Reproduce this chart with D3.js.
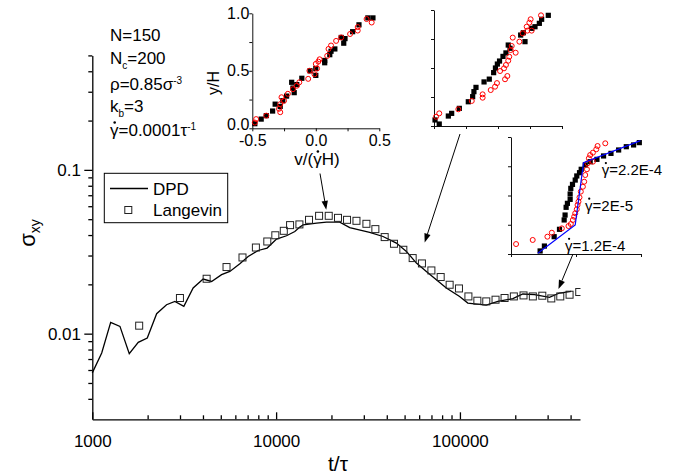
<!DOCTYPE html>
<html>
<head>
<meta charset="utf-8">
<script src="https://cdn.jsdelivr.net/npm/d3@7"></script>
<style>
  body { margin: 0; background: #fff; }
</style>
</head>
<body>
<script>
// shear stress vs time, DPD run (line) and Langevin run (squares)
var dpdT = [1000, 1125, 1259, 1414, 1589, 1778, 1991, 2239, 2535, 2813, 3148, 3537, 4009, 4456, 5051, 5601,
  6348, 7047, 7985, 8933, 10050, 11390, 12640, 13460, 14030, 16600, 18800, 22200, 25140, 32280, 38160,
  45110, 51150, 57990, 65660, 84330, 99600, 110400, 139000, 160900, 194100, 219800, 254600, 307000,
  348100, 403000];
var dpdS = [0.00576, 0.00763, 0.01172, 0.01108, 0.00755, 0.00885, 0.00941, 0.01324, 0.01502, 0.01574,
  0.01467, 0.0190, 0.02156, 0.02084, 0.02291, 0.02399, 0.02672, 0.0296, 0.0322, 0.03332, 0.03779, 0.0396,
  0.04206, 0.04472, 0.04619, 0.04732, 0.04797, 0.04797, 0.04446, 0.04147, 0.0392, 0.03573, 0.03176,
  0.02698, 0.02399, 0.019, 0.01688, 0.01538, 0.01492, 0.01574, 0.01635, 0.01746, 0.01729, 0.01664,
  0.01771, 0.01811];
var lanT = [1799, 2998, 4188, 5373, 6563, 7762, 8954, 9901, 11010, 11910, 13390, 15100, 17130, 19330,
  21710, 24310, 27360, 30990, 34670, 38960, 43770, 49220, 55320, 62130, 69940, 78570, 87900, 98800,
  111200, 124400, 139100, 156200, 174900, 196500, 221800, 249300, 280600, 314100, 351500, 394900, 445700];
var lanS = [0.01119, 0.01651, 0.02164, 0.02551, 0.02919, 0.03357, 0.03654, 0.03988, 0.04246, 0.046,
  0.04645, 0.04955, 0.05243, 0.05243, 0.05094, 0.04955, 0.04887, 0.04685, 0.04348, 0.03887, 0.03539,
  0.03252, 0.02894, 0.02684, 0.02432, 0.02217, 0.01989, 0.01888, 0.01688, 0.01589, 0.01574, 0.01612,
  0.01651, 0.01688, 0.01712, 0.01688, 0.01705, 0.01641, 0.01688, 0.01729, 0.01796];

var xMajor = [1000, 10000, 100000];
var xMinor = [2000, 3000, 4000, 5000, 6000, 7000, 8000, 9000, 20000, 30000, 40000, 50000, 60000, 70000,
  80000, 90000, 200000, 300000, 400000];
var yMajor = [0.01, 0.1];
var yMinor = [0.004, 0.005, 0.006, 0.007, 0.008, 0.009, 0.02, 0.03, 0.04, 0.05, 0.06, 0.07, 0.08, 0.09,
  0.2, 0.3, 0.4, 0.5];

// velocity profiles in the insets: [v/(gamma H), y/H]
var prof1Dpd = [[-0.48, 0.04], [-0.43, 0.08], [-0.39, 0.11], [-0.34, 0.15], [-0.32, 0.21], [-0.28, 0.19],
  [-0.26, 0.24], [-0.23, 0.28], [-0.19, 0.40], [-0.18, 0.35], [-0.17, 0.31], [-0.15, 0.38], [-0.11, 0.435],
  [-0.045, 0.50], [0.0, 0.46], [0.0, 0.52], [0.07, 0.57], [0.07, 0.59], [0.11, 0.64], [0.12, 0.67],
  [0.15, 0.69], [0.20, 0.79], [0.22, 0.74], [0.23, 0.78], [0.29, 0.84], [0.34, 0.90], [0.41, 0.96],
  [0.45, 0.96]];
var prof1Lan = [[-0.48, 0.05], [-0.47, 0.08], [-0.39, 0.11], [-0.29, 0.17], [-0.28, 0.14], [-0.28, 0.21],
  [-0.27, 0.27], [-0.25, 0.24], [-0.22, 0.30], [-0.18, 0.34], [-0.15, 0.37], [-0.13, 0.40], [-0.06, 0.43],
  [-0.05, 0.50], [-0.01, 0.47], [0.0, 0.56], [0.01, 0.52], [0.02, 0.58], [0.03, 0.60], [0.09, 0.63],
  [0.10, 0.69], [0.12, 0.72], [0.16, 0.76], [0.20, 0.79], [0.27, 0.82], [0.33, 0.85], [0.33, 0.88],
  [0.40, 0.95], [0.44, 0.92]];
var prof2Dpd = [[-0.492, 0.052], [-0.459, 0.017], [-0.388, 0.086], [-0.362, 0.109], [-0.302, 0.152],
  [-0.232, 0.209], [-0.198, 0.253], [-0.188, 0.296], [-0.172, 0.333], [-0.109, 0.38], [-0.068, 0.404],
  [-0.034, 0.46], [-0.02, 0.5], [-0.005, 0.534], [0.012, 0.56], [0.039, 0.6], [0.062, 0.63], [0.08, 0.698],
  [0.094, 0.67], [0.177, 0.784], [0.198, 0.804], [0.211, 0.727], [0.263, 0.842], [0.289, 0.856],
  [0.323, 0.885], [0.341, 0.92], [0.393, 0.954]];
var prof2Lan = [[-0.484, 0.08], [-0.459, 0.109], [-0.31, 0.144], [-0.205, 0.216], [-0.12, 0.244],
  [-0.12, 0.273], [-0.057, 0.31], [-0.023, 0.339], [-0.008, 0.37], [0.055, 0.403], [0.073, 0.431],
  [0.016, 0.474], [0.047, 0.497], [0.062, 0.526], [0.08, 0.563], [0.088, 0.597], [0.099, 0.655],
  [0.107, 0.69], [0.138, 0.632], [0.115, 0.762], [0.167, 0.727], [0.193, 0.799], [0.224, 0.856],
  [0.229, 0.822], [0.245, 0.891], [0.255, 0.92], [0.263, 0.822], [0.336, 0.954]];
var prof3Dpd = [[-0.276, 0.026], [-0.243, 0.068], [-0.168, 0.148], [-0.127, 0.211], [-0.091, 0.291],
  [-0.084, 0.333], [-0.076, 0.399], [-0.066, 0.433], [-0.045, 0.467], [-0.045, 0.513], [-0.04, 0.561],
  [-0.027, 0.595], [-0.006, 0.632], [0.006, 0.667], [0.027, 0.695], [0.04, 0.724], [0.071, 0.761],
  [0.109, 0.789], [0.161, 0.809], [0.212, 0.838], [0.269, 0.86], [0.328, 0.889], [0.387, 0.917],
  [0.443, 0.932], [0.487, 0.952]];
var prof3Lan = [[-0.461, 0.085], [-0.333, 0.12], [-0.22, 0.148], [-0.186, 0.182], [-0.109, 0.219],
  [-0.058, 0.239], [-0.04, 0.256], [-0.024, 0.291], [-0.014, 0.319], [-0.006, 0.348], [0.006, 0.382],
  [0.012, 0.419], [0.019, 0.447], [0.027, 0.484], [0.037, 0.533], [0.053, 0.575], [0.063, 0.618],
  [0.071, 0.675], [0.084, 0.724], [0.089, 0.775], [0.099, 0.818], [0.109, 0.846], [0.13, 0.866],
  [0.156, 0.895], [0.166, 0.923], [0.225, 0.946], [0.13, 0.789]];
var prof3Fit = [[-0.294, 0.006], [-0.006, 0.248], [0.058, 0.78], [0.495, 0.969]];
var rateLabels = ['=2.2E-4', '=2E-5', '=1.2E-4'];

var font = '"Liberation Sans", Arial, Helvetica, sans-serif';
var w = 688, h = 475;
var svg = d3.select('body').append('svg').attr('width', w).attr('height', h);

var x = d3.scaleLog().domain([1000, 450000]).range([92.3, 580]);
var y = d3.scaleLog().domain([0.003, 0.5]).range([419.3, 55.4]);

// puts the rate dot over the gamma at char index k of a text element
function gammaDot(t, k, size, baseY){
  var box = t.node().getExtentOfChar(k);
  svg.append('circle').attr('cx', box.x + box.width * 0.55).attr('cy', baseY - size * 0.8)
    .attr('r', size * 0.075).attr('fill', '#000');
}

// ---- main axes
svg.append('g').attr('transform', 'translate(0,419.3)')
  .call(d3.axisBottom(x).tickValues(xMinor).tickSize(-4).tickFormat(''))
  .call(function(g){ g.select('.domain').remove(); });
svg.append('g').attr('transform', 'translate(0,419.3)')
  .call(d3.axisBottom(x).tickValues(xMajor).tickSize(-7).tickSizeOuter(0).tickPadding(15.4)
    .tickFormat(function(d){ return String(d); }))
  .attr('font-size', 17).attr('font-family', font);
svg.append('g').attr('transform', 'translate(92.3,0)')
  .call(d3.axisLeft(y).tickValues(yMinor).tickSize(4).tickFormat(''))
  .call(function(g){ g.select('.domain').remove(); });
svg.append('g').attr('transform', 'translate(92.3,0)')
  .call(d3.axisLeft(y).tickValues(yMajor).tickSize(8).tickSizeOuter(0).tickPadding(3.3)
    .tickFormat(function(d){ return String(d); }))
  .attr('font-size', 17).attr('font-family', font);
svg.selectAll('.domain, .tick line').attr('stroke-width', 1.3);

svg.append('text').attr('x', 338).attr('y', 471).attr('text-anchor', 'middle')
  .attr('font-family', font).attr('font-size', 21).text('t/\u03c4');
var yl = svg.append('text').attr('transform', 'translate(35,233) rotate(-90)')
  .attr('text-anchor', 'middle').attr('font-family', font).attr('font-size', 22);
yl.append('tspan').text('\u03c3');
yl.append('tspan').attr('dy', 5).attr('font-size', 14).text('xy');

// ---- data
svg.append('clipPath').attr('id', 'plot').append('rect')
  .attr('x', 86).attr('y', 50).attr('width', 494.5).attr('height', 372);
var plot = svg.append('g').attr('clip-path', 'url(#plot)');

var line = d3.line().x(function(d){ return x(d[0]); }).y(function(d){ return y(d[1]); });
plot.append('path').datum(d3.zip(dpdT, dpdS)).attr('d', line)
  .attr('fill', 'none').attr('stroke', '#000').attr('stroke-width', 1.3);
plot.selectAll('rect.lan').data(d3.zip(lanT, lanS)).enter().append('rect').attr('class', 'lan')
  .attr('x', function(d){ return x(d[0]) - 3.5; })
  .attr('y', function(d){ return y(d[1]) - 3.5; })
  .attr('width', 7).attr('height', 7)
  .attr('fill', 'none').attr('stroke', '#222').attr('stroke-width', 1);

// ---- legend
var leg = svg.append('g').attr('font-family', font).attr('font-size', 17);
leg.append('rect').attr('x', 104.3).attr('y', 173.3).attr('width', 123.4).attr('height', 49.4)
  .attr('fill', '#fff').attr('stroke', '#000').attr('stroke-width', 1);
leg.append('line').attr('x1', 110).attr('x2', 148).attr('y1', 188.5).attr('y2', 188.5)
  .attr('stroke', '#000').attr('stroke-width', 1.3);
leg.append('text').attr('x', 153).attr('y', 195).text('DPD');
leg.append('rect').attr('x', 124.8).attr('y', 206.5).attr('width', 7).attr('height', 7)
  .attr('fill', 'none').attr('stroke', '#222');
leg.append('text').attr('x', 153).attr('y', 216).text('Langevin');

// ---- run parameters
var params = [
  [['N=150', '']],
  [['N', ''], ['c', 'sub'], ['=200', '']],
  [['\u03c1=0.85\u03c3', ''], ['-3', 'sup']],
  [['k', ''], ['b', 'sub'], ['=3', '']],
  [['\u03b3=0.0001\u03c4', ''], ['-1', 'sup']]
];
var paramY = [41, 63.5, 90, 111.5, 136];
params.forEach(function(segs, i){
  var t = svg.append('text').attr('x', 110).attr('y', paramY[i])
    .attr('font-family', font).attr('font-size', 17);
  var shift = 0;
  segs.forEach(function(s){
    var target = s[1] === 'sub' ? 5 : s[1] === 'sup' ? -6 : 0;
    t.append('tspan').attr('dy', target - shift)
      .attr('font-size', s[1] ? 10 : 17).text(s[0]);
    shift = target;
  });
  if (segs[0][0].charAt(0) === '\u03b3') gammaDot(t, 0, 17, paramY[i]);
});

// ---- insets
function inset(xr, yr, xTicks, yTicks, labels){
  var sx = d3.scaleLinear().domain([-0.5, 0.5]).range(xr);
  var sy = d3.scaleLinear().domain([0, 1]).range(yr);
  var fmt = function(d){ return (d % 0.5 === 0) ? d.toFixed(1) : ''; };
  var gx = svg.append('g').attr('transform', 'translate(0,' + yr[0] + ')')
    .call(d3.axisBottom(sx).tickValues(xTicks).tickSize(3).tickSizeOuter(0).tickPadding(3.8)
      .tickFormat(labels ? fmt : ''));
  var gy = svg.append('g').attr('transform', 'translate(' + xr[0] + ',0)')
    .call(d3.axisLeft(sy).tickValues(yTicks).tickSize(3).tickSizeOuter(0).tickPadding(0)
      .tickFormat(labels ? fmt : ''));
  [gx, gy].forEach(function(g){
    g.attr('font-size', 16).attr('font-family', font);
    g.selectAll('.domain, .tick line').attr('stroke', '#111').attr('stroke-width', 1);
  });
  // lowest y label sits a touch high so it clears the x labels
  gy.selectAll('.tick text').filter(function(d){ return d === 0; }).attr('dy', '0.1em');
  return {x: sx, y: sy};
}

function profile(s, dpd, lan){
  svg.append('g').selectAll('rect').data(dpd).enter().append('rect')
    .attr('x', function(d){ return s.x(d[0]) - 2.6; })
    .attr('y', function(d){ return s.y(d[1]) - 2.6; })
    .attr('width', 5.2).attr('height', 5.2).attr('fill', '#000');
  svg.append('g').selectAll('circle').data(lan).enter().append('circle')
    .attr('cx', function(d){ return s.x(d[0]); })
    .attr('cy', function(d){ return s.y(d[1]); })
    .attr('r', 2.5).attr('fill', 'none').attr('stroke', '#f00').attr('stroke-width', 1);
}

var quarter = [-0.5, -0.25, 0, 0.25, 0.5];
var yq = [0, 0.25, 0.5, 0.75, 1];

var s1 = inset([252.3, 379.3], [128.3, 13.3], quarter, yq, true);
profile(s1, prof1Dpd, prof1Lan);
var vl = svg.append('text').attr('x', 317).attr('y', 165).attr('text-anchor', 'middle')
  .attr('font-family', font).attr('font-size', 17).text('v/(\u03b3H)');
gammaDot(vl, 3, 17, 165);
svg.append('text').attr('transform', 'translate(219,83) rotate(-90)').attr('text-anchor', 'middle')
  .attr('font-family', font).attr('font-size', 16).text('y/H');

var s2 = inset([434, 562], [126, 10], quarter, yq, false);
profile(s2, prof2Dpd, prof2Lan);

var s3 = inset([511, 641], [254, 137], [-0.5, 0, 0.5], yq, false);
profile(s3, prof3Dpd, prof3Lan);
svg.append('path').datum(prof3Fit)
  .attr('d', d3.line().x(function(d){ return s3.x(d[0]); }).y(function(d){ return s3.y(d[1]); }))
  .attr('fill', 'none').attr('stroke', '#00f').attr('stroke-width', 1.2);

var ratePos = [[0.198, 0.675], [0.07, 0.37], [-0.085, 0.027]];
rateLabels.forEach(function(r, i){
  var by = s3.y(ratePos[i][1]);
  var t = svg.append('text').attr('x', s3.x(ratePos[i][0])).attr('y', by)
    .attr('font-family', font).attr('font-size', 15).text('\u03b3' + r);
  gammaDot(t, 0, 15, by);
});

// ---- arrows from the insets down to the curve
var arrows = [
  {from: [320, 173.5], to: [18740, 0.0570]},
  {from: [460, 134], to: [64300, 0.0360]},
  {from: [573, 254], to: [343600, 0.01873]}
];
arrows.forEach(function(a){
  var x1 = a.from[0], y1 = a.from[1], x2 = x(a.to[0]), y2 = y(a.to[1]);
  var ang = Math.atan2(y2 - y1, x2 - x1), L = 9, W = 3.2;
  var bx = x2 - L * Math.cos(ang), by = y2 - L * Math.sin(ang);
  svg.append('line').attr('x1', x1).attr('y1', y1).attr('x2', bx).attr('y2', by)
    .attr('stroke', '#000').attr('stroke-width', 1);
  svg.append('path')
    .attr('d', 'M' + x2 + ',' + y2 +
      'L' + (bx + W * Math.sin(ang)) + ',' + (by - W * Math.cos(ang)) +
      'L' + (bx - W * Math.sin(ang)) + ',' + (by + W * Math.cos(ang)) + 'Z')
    .attr('fill', '#000');
});
</script>
</body>
</html>
